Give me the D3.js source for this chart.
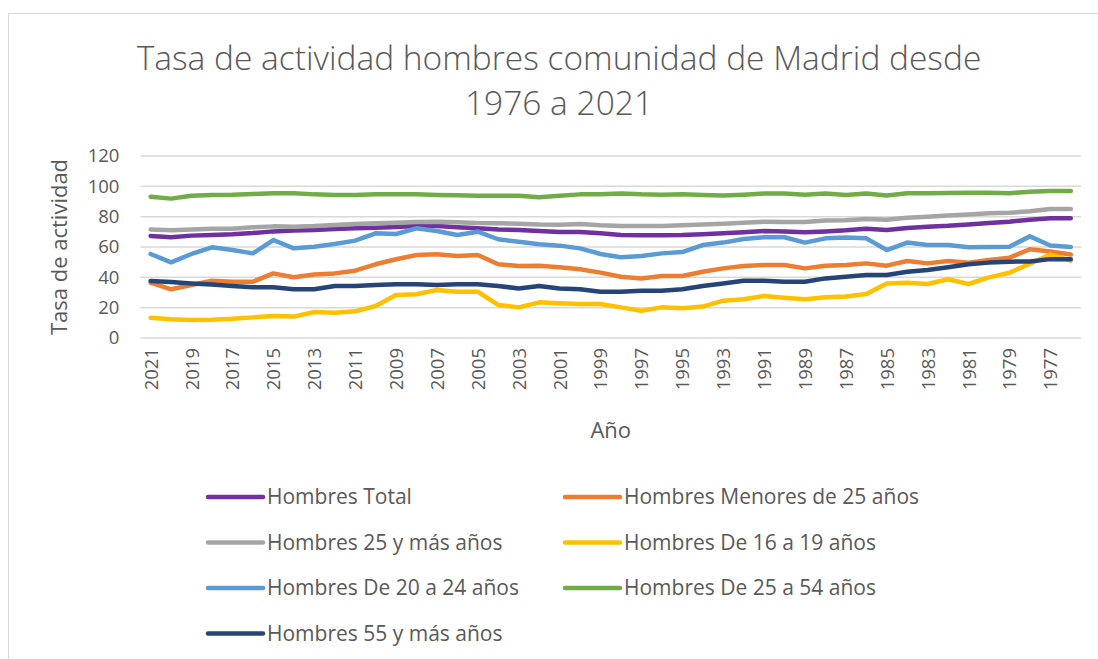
<!DOCTYPE html>
<html>
<head>
<meta charset="utf-8">
<script src="https://cdn.jsdelivr.net/npm/d3@7"></script>
<style>
  body { margin: 0; background: #fff; }
  text { font-family: "Open Sans", "Noto Sans", sans-serif; fill: #595959; }
</style>
</head>
<body>
<svg id="chart" width="1098" height="659"></svg>
<script>
// years, newest first as in the chart
const years = d3.range(2021, 1975, -1);

const seriesNames = [
  "Hombres Total",
  "Hombres Menores de 25 años",
  "Hombres 25 y más años",
  "Hombres De 16 a 19 años",
  "Hombres De 20 a 24 años",
  "Hombres De 25 a 54 años",
  "Hombres 55 y más años"
];
const seriesColors = ["#7030A0", "#ED7D31", "#A5A5A5", "#FFC000", "#5B9BD5", "#70AD47", "#264478"];

const total = [67.3, 66.4, 67.5, 67.9, 68.4, 69.2, 70.3, 70.8, 71.2, 71.9, 72.3, 72.7, 73.2, 73.8,
  73.8, 73.0, 72.3, 71.6, 71.2, 70.5, 69.9, 69.9, 69.0, 67.9, 67.7, 67.7, 67.9, 68.4,
  69.0, 69.7, 70.5, 70.3, 69.7, 70.3, 71.0, 72.1, 71.2, 72.5, 73.4, 74.0, 74.9, 75.8,
  76.7, 78.0, 79.0, 79.0];
const menores25 = [36.5, 32.1, 34.9, 37.8, 37.1, 37.1, 42.6, 40.0, 41.8, 42.6, 44.4, 48.6, 51.9, 54.7,
  55.2, 54.1, 54.7, 48.6, 47.5, 47.7, 46.6, 45.3, 43.1, 40.4, 39.3, 40.9, 40.9, 43.7,
  45.9, 47.5, 48.1, 48.1, 45.9, 47.7, 48.1, 49.2, 47.7, 50.8, 49.2, 50.8, 49.7, 51.4,
  53.0, 58.5, 57.0, 55.0];
const mas25 = [71.6, 71.0, 71.6, 72.1, 72.1, 73.0, 73.6, 73.4, 73.8, 74.5, 75.2, 75.6, 76.0, 76.5,
  76.7, 76.3, 75.8, 75.6, 75.4, 74.9, 74.7, 75.2, 74.3, 73.8, 73.8, 73.8, 74.3, 74.9,
  75.4, 76.0, 76.7, 76.5, 76.5, 77.4, 77.6, 78.5, 78.0, 79.3, 80.0, 80.7, 81.5, 82.2,
  82.6, 83.5, 85.0, 85.0];
const de16a19 = [13.4, 12.3, 11.9, 12.1, 12.7, 13.6, 14.5, 14.1, 17.1, 16.7, 17.6, 21.1, 28.4, 28.8,
  31.6, 30.5, 30.5, 21.8, 20.2, 23.5, 22.9, 22.4, 22.4, 20.2, 18.0, 20.2, 19.6, 20.7,
  24.6, 25.5, 27.7, 26.6, 25.5, 26.8, 27.3, 29.0, 36.0, 36.5, 35.6, 38.7, 35.6, 40.0,
  43.0, 49.0, 55.0, 51.0];
const de20a24 = [55.4, 49.9, 55.4, 59.8, 58.0, 55.8, 64.6, 59.1, 60.2, 62.0, 64.2, 69.0, 68.6, 72.3,
  70.5, 67.9, 70.1, 65.1, 63.5, 61.8, 60.9, 59.1, 55.4, 53.2, 54.1, 55.8, 56.7, 61.3,
  62.9, 65.3, 66.4, 66.4, 62.9, 65.7, 66.2, 65.7, 58.0, 62.9, 61.3, 61.3, 59.8, 60.0,
  60.2, 67.0, 61.0, 60.0];
const de25a54 = [93.2, 91.9, 93.8, 94.3, 94.5, 95.0, 95.4, 95.4, 94.7, 94.3, 94.3, 94.7, 94.7, 94.7,
  94.3, 94.1, 93.8, 93.8, 93.8, 92.8, 93.8, 94.7, 94.7, 95.2, 94.7, 94.5, 94.7, 94.3,
  94.0, 94.5, 95.2, 95.2, 94.5, 95.2, 94.3, 95.2, 94.0, 95.4, 95.4, 95.6, 95.8, 95.8,
  95.4, 96.5, 97.0, 97.0];
const mas55 = [37.6, 36.9, 36.0, 35.2, 34.3, 33.4, 33.4, 32.1, 32.1, 34.3, 34.3, 34.9, 35.4, 35.4,
  34.9, 35.4, 35.4, 34.3, 32.7, 34.3, 32.7, 32.1, 30.5, 30.5, 31.2, 31.2, 32.1, 34.3,
  36.0, 37.8, 37.8, 37.1, 37.1, 39.3, 40.4, 41.5, 41.5, 43.7, 44.8, 46.6, 48.6, 49.7,
  50.3, 50.5, 52.0, 52.0];

const yTicks = [0, 20, 40, 60, 80, 100, 120];

const allValues = [total, menores25, mas25, de16a19, de20a24, de25a54, mas55];
const series = seriesNames.map((name, i) => ({
  name: name,
  color: seriesColors[i],
  values: allValues[i].map((v, j) => ({ year: years[j], value: v }))
}));

const svg = d3.select("#chart");

// chart frame
svg.append("rect")
  .attr("x", 8.5).attr("y", 13.5)
  .attr("width", 1200).attr("height", 800)
  .attr("fill", "none")
  .attr("stroke", "#d9d9d9");

const margin = { left: 140.4, right: 1081, top: 156, bottom: 338 };

const x = d3.scalePoint()
  .domain(years)
  .range([margin.left, margin.right])
  .padding(0.5);

const y = d3.scaleLinear()
  .domain([0, 120])
  .range([margin.bottom, margin.top]);

// title
const title = svg.append("text")
  .attr("text-anchor", "middle")
  .style("font-size", "33.5px")
  .style("font-weight", 300);
title.append("tspan").attr("x", 559).attr("y", 70)
  .text("Tasa de actividad hombres comunidad de Madrid desde");
title.append("tspan").attr("x", 559).attr("y", 115)
  .text("1976 a 2021");

// gridlines
svg.append("g")
  .selectAll("line")
  .data(yTicks)
  .enter()
  .append("line")
  .attr("x1", margin.left)
  .attr("x2", margin.right)
  .attr("y1", d => y(d))
  .attr("y2", d => y(d))
  .attr("stroke", "#d9d9d9")
  .attr("stroke-width", 1.5);

// y axis
const yAxis = svg.append("g")
  .attr("transform", "translate(" + margin.left + ",0)")
  .call(d3.axisLeft(y).tickValues(yTicks).tickSize(0).tickPadding(21));
yAxis.select(".domain").remove();
yAxis.selectAll("text")
  .style("font-size", "18.5px")
  .attr("fill", "#595959");

// x axis
const xAxis = svg.append("g")
  .attr("transform", "translate(0," + margin.bottom + ")")
  .call(d3.axisBottom(x)
    .tickValues(years.filter(d => (2021 - d) % 2 === 0))
    .tickSize(0));
xAxis.select(".domain").remove();
xAxis.selectAll("text")
  .style("font-size", "18.5px")
  .attr("fill", "#595959")
  .attr("text-anchor", "end")
  .attr("transform", "rotate(-90)")
  .attr("x", -10)
  .attr("y", 0)
  .attr("dy", "0.35em");

// axis titles
svg.append("text")
  .attr("text-anchor", "middle")
  .attr("transform", "translate(67," + ((margin.top + margin.bottom) / 2) + ") rotate(-90)")
  .style("font-size", "22px")
  .text("Tasa de actividad");

svg.append("text")
  .attr("text-anchor", "middle")
  .attr("x", (margin.left + margin.right) / 2)
  .attr("y", 438)
  .style("font-size", "22px")
  .text("Año");

// lines
const line = d3.line()
  .x(d => x(d.year))
  .y(d => y(d.value));

svg.append("g")
  .selectAll("path")
  .data(series)
  .enter()
  .append("path")
  .attr("d", d => line(d.values))
  .attr("fill", "none")
  .attr("stroke", d => d.color)
  .attr("stroke-width", 4.5)
  .attr("stroke-linejoin", "round")
  .attr("stroke-linecap", "round");

// legend
const legend = svg.append("g")
  .selectAll("g")
  .data(series)
  .enter()
  .append("g")
  .attr("transform", (d, i) => "translate(" + (i % 2 === 0 ? 208 : 565) + "," + (497 + Math.floor(i / 2) * 45.5) + ")");

legend.append("line")
  .attr("x1", 0).attr("x2", 55)
  .attr("stroke", d => d.color)
  .attr("stroke-width", 4.5)
  .attr("stroke-linecap", "round");

legend.append("text")
  .attr("x", 59)
  .attr("dy", "0.35em")
  .style("font-size", "21px")
  .text(d => d.name);
</script>
</body>
</html>
